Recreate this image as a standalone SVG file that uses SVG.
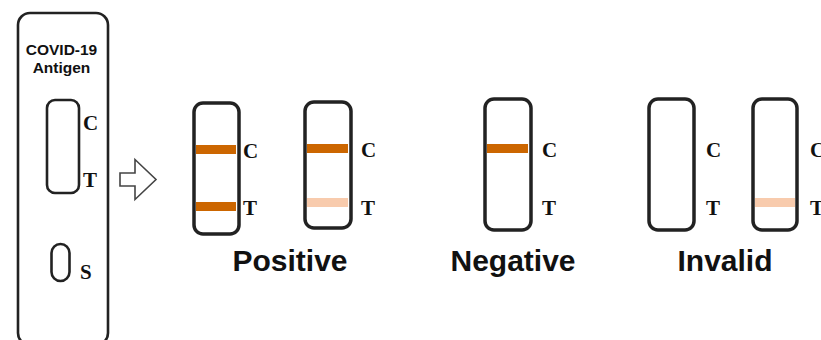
<svg xmlns="http://www.w3.org/2000/svg" width="821" height="340" viewBox="0 0 821 340">
<style>
.frame{fill:#fff;stroke:#222;stroke-width:2.6}
.strip{fill:#fff;stroke:#222;stroke-width:3.5}
.lbl{font-family:"Liberation Serif",serif;font-weight:bold;font-size:21px;fill:#111}
.title{font-family:"Liberation Sans",Arial,sans-serif;font-weight:bold;font-size:15.5px;fill:#111;text-anchor:middle}
.res{font-family:"Liberation Sans",Arial,sans-serif;font-weight:bold;font-size:30px;fill:#111;text-anchor:middle}
.band{fill:#CC6600}
.faint{fill:#F8CBAD}
</style>
<rect width="821" height="340" fill="#fff"/>
<g id="cassette">
<rect class="frame" x="18" y="13" width="90" height="332" rx="12"/>
<text class="title" x="61.5" y="55">COVID-19</text>
<text class="title" x="61.5" y="73">Antigen</text>
<rect class="frame" x="47" y="100" width="32" height="93" rx="8"/>
<text class="lbl" x="83" y="130">C</text>
<text class="lbl" x="83" y="187">T</text>
<rect class="frame" x="51.5" y="244" width="18" height="37" rx="9"/>
<text class="lbl" x="80" y="279">S</text>
</g>
<g id="connectors">
<path d="M120 173 L135 173 L135 159.5 L156 179.5 L135 199.5 L135 186 L120 186 Z" fill="#fff" stroke="#444" stroke-width="1.6"/>
</g>
<g id="positive1">
<rect class="strip" x="194" y="103" width="45" height="131" rx="9"/>
<rect class="band" x="196" y="145" width="40" height="9"/>
<rect class="band" x="196" y="202" width="40" height="9"/>
<text class="lbl" x="243" y="158">C</text>
<text class="lbl" x="243" y="215">T</text>
</g>
<g id="positive2">
<rect class="strip" x="305" y="102" width="46" height="126" rx="9"/>
<rect class="band" x="307" y="144" width="41" height="9"/>
<rect class="faint" x="307" y="198" width="41" height="9"/>
<text class="lbl" x="361" y="157">C</text>
<text class="lbl" x="361" y="215">T</text>
</g>
<text class="res" x="290" y="271">Positive</text>
<g id="negative">
<rect class="strip" x="485" y="99" width="46" height="131" rx="9"/>
<rect class="band" x="487" y="144" width="41" height="9"/>
<text class="lbl" x="542" y="157">C</text>
<text class="lbl" x="542" y="215">T</text>
</g>
<text class="res" x="513" y="271">Negative</text>
<g id="invalid1">
<rect class="strip" x="649" y="99" width="45" height="131" rx="9"/>
<text class="lbl" x="706" y="157">C</text>
<text class="lbl" x="706" y="215">T</text>
</g>
<g id="invalid2">
<rect class="strip" x="753" y="99" width="44" height="131" rx="9"/>
<rect class="faint" x="755" y="198" width="40" height="9"/>
<text class="lbl" x="810" y="157">C</text>
<text class="lbl" x="810" y="215">T</text>
</g>
<text class="res" x="725" y="271">Invalid</text>
</svg>
